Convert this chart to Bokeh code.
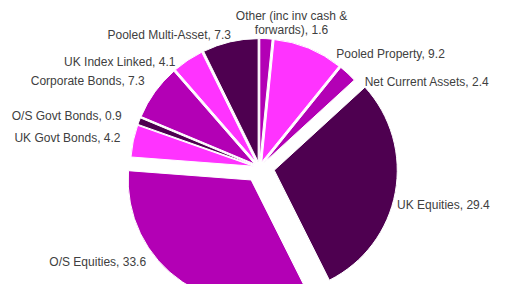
import numpy as np
from bokeh.plotting import figure
from bokeh.models import ColumnDataSource, Range1d
from bokeh.core.properties import value
from bokeh.embed import file_html
from bokeh.resources import INLINE

# ---- data (clockwise from 12 o'clock) ----
categories = ["Other (inc inv cash &\nforwards)", "Pooled Property", "Net Current Assets",
              "UK Equities", "O/S Equities", "UK Govt Bonds", "O/S Govt Bonds",
              "Corporate Bonds", "UK Index Linked", "Pooled Multi-Asset"]
values = [1.6, 9.2, 2.4, 29.4, 33.6, 4.2, 0.9, 7.3, 4.1, 7.3]

# ---- styles / layout ----
DARK, MED, BRIGHT = "#4E0050", "#B300B5", "#FF33FF"
colors = [MED, BRIGHT, MED, DARK, MED, BRIGHT, DARK, MED, BRIGHT, DARK]
explode = [6, 6, 6, 15, 15, 6, 6, 6, 6, 6]          # px pulled out from centre
label_nudge = [(25, -6), (24, 15), (10, 16), (-8, 11), (-31, -28),
               (-3, -1), (-8, -2), (-2, -5), (-7, 10), (3, 3)]  # px (x right, y down)

W, H = 507, 300
CX, CY = 259, H - 167     # pie centre (data coords, y up)
R = 123
PAD = 10

vals = np.array(values, dtype=float)
cum = np.concatenate([[0], np.cumsum(vals)]) / vals.sum() * 360.0
a0, a1 = cum[:-1], cum[1:]                      # clockwise degrees from north
mid = np.radians((a0 + a1) / 2)
ex = np.array(explode, dtype=float)
px = CX + ex * np.sin(mid)
py = CY + ex * np.cos(mid)
start = np.radians(90 - a1)
end = np.radians(90 - a0)

src = ColumnDataSource(dict(x=px, y=py, start=start, end=end, color=colors))

lx = px + (R + PAD) * np.sin(mid) + np.array([n[0] for n in label_nudge])
ly = py + (R + PAD) * np.cos(mid) - np.array([n[1] for n in label_nudge])
s = np.sin(mid)
align = ["left" if v > 0.15 else ("right" if v < -0.15 else "center") for v in s]
labels = [f"{c}, {v}" for c, v in zip(categories, values)]
lsrc = ColumnDataSource(dict(x=lx, y=ly, text=labels, align=align))

p = figure(width=491, height=284, x_range=Range1d(0, 491), y_range=Range1d(16, 300),
           output_backend="svg", toolbar_location=None, min_border=0,
           x_axis_type=None, y_axis_type=None)
p.grid.visible = False
p.outline_line_color = None
p.background_fill_color = "white"
p.border_fill_color = "white"

p.wedge(x="x", y="y", radius=R, start_angle="start", end_angle="end",
        fill_color="color", line_color="white", line_width=1, source=src)

p.text(x="x", y="y", text="text", source=lsrc, text_align="align",
       text_baseline="middle", text_font=value("Liberation Sans"),
       text_font_size="12px", text_color="#404040", text_line_height=1.0)

open("out.html", "w").write(file_html(p, INLINE))
